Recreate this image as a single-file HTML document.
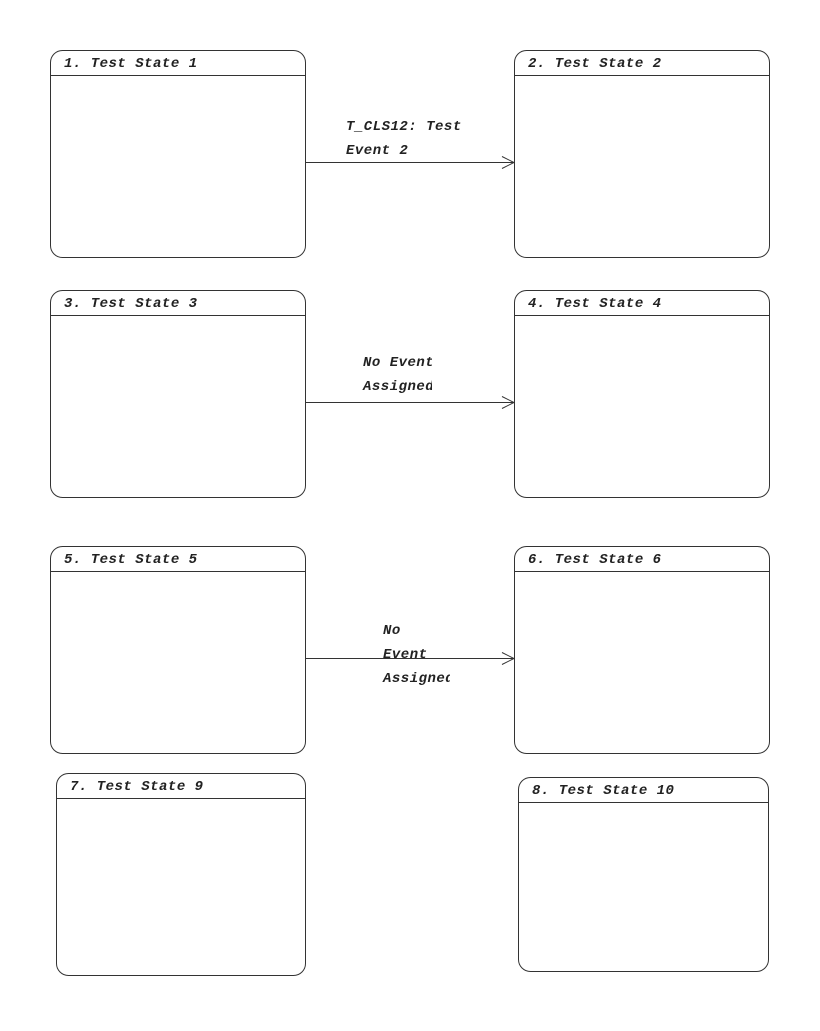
<!DOCTYPE html>
<html><head><style>
body{margin:0;background:#fff}
svg text{font-family:"Liberation Mono",monospace;font-weight:bold;font-style:italic;font-size:14px;letter-spacing:0.5px;fill:#222}
</style></head><body>
<svg width="820" height="1026" viewBox="0 0 820 1026" xmlns="http://www.w3.org/2000/svg">
<defs>
<clipPath id="c1"><rect x="340" y="340" width="92" height="60"/></clipPath>
<clipPath id="c2"><rect x="380" y="615" width="70" height="80"/></clipPath>
</defs>
<g fill="none" stroke="#333" stroke-width="1">
<rect x="50.5" y="50.5" width="255" height="207" rx="12"/><line x1="50" y1="75.5" x2="305" y2="75.5"/>
<rect x="514.5" y="50.5" width="255" height="207" rx="12"/><line x1="514" y1="75.5" x2="769" y2="75.5"/>
<rect x="50.5" y="290.5" width="255" height="207" rx="12"/><line x1="50" y1="315.5" x2="305" y2="315.5"/>
<rect x="514.5" y="290.5" width="255" height="207" rx="12"/><line x1="514" y1="315.5" x2="769" y2="315.5"/>
<rect x="50.5" y="546.5" width="255" height="207" rx="12"/><line x1="50" y1="571.5" x2="305" y2="571.5"/>
<rect x="514.5" y="546.5" width="255" height="207" rx="12"/><line x1="514" y1="571.5" x2="769" y2="571.5"/>
<rect x="56.5" y="773.5" width="249" height="202" rx="12"/><line x1="56" y1="798.5" x2="305" y2="798.5"/>
<rect x="518.5" y="777.5" width="250" height="194" rx="12"/><line x1="518" y1="802.5" x2="768" y2="802.5"/>
<line x1="305" y1="162.5" x2="514" y2="162.5"/><polyline points="502,156.5 514,162.5 502,168.5"/>
<line x1="305" y1="402.5" x2="514" y2="402.5"/><polyline points="502,396.5 514,402.5 502,408.5"/>
<line x1="305" y1="658.5" x2="514" y2="658.5"/><polyline points="502,652.5 514,658.5 502,664.5"/>
</g>
<text x="64" y="67">1. Test State 1</text>
<text x="528" y="67">2. Test State 2</text>
<text x="64" y="307">3. Test State 3</text>
<text x="528" y="307">4. Test State 4</text>
<text x="64" y="563">5. Test State 5</text>
<text x="528" y="563">6. Test State 6</text>
<text x="70" y="790">7. Test State 9</text>
<text x="532" y="794">8. Test State 10</text>
<text x="346" y="130">T_CLS12: Test</text>
<text x="346" y="154">Event 2</text>
<g clip-path="url(#c1)"><text x="363" y="366">No Event</text><text x="363" y="390">Assigned</text></g>
<g clip-path="url(#c2)"><text x="383" y="634">No</text><text x="383" y="658">Event</text><text x="383" y="682">Assigned</text></g>
</svg>
</body></html>
